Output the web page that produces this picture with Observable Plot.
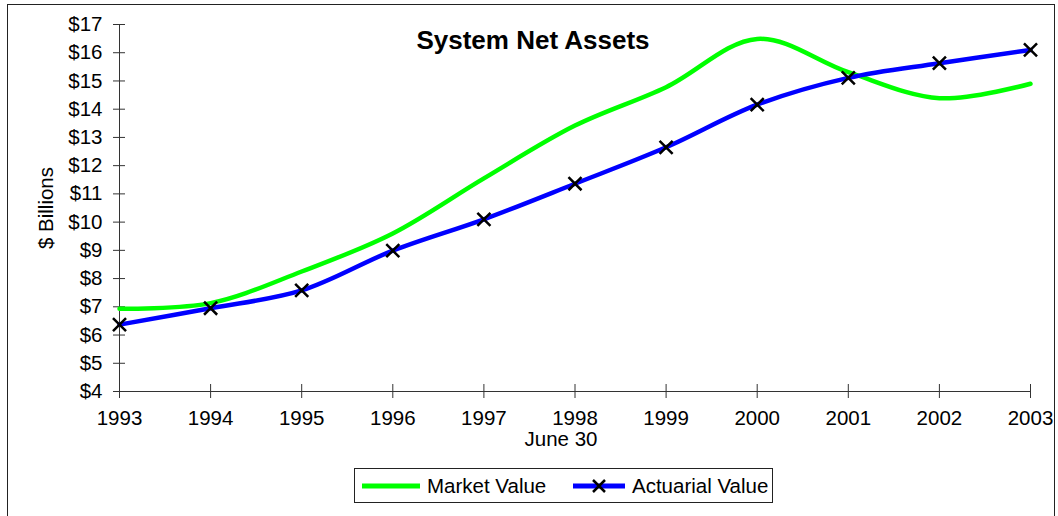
<!DOCTYPE html>
<html><head><meta charset="utf-8">
<script src="https://cdn.jsdelivr.net/npm/d3@7"></script>
<script src="https://cdn.jsdelivr.net/npm/@observablehq/plot@0.6"></script>
<style>
body{margin:0;background:#fff;font-family:"Liberation Sans",Arial,sans-serif;}
#wrap{position:relative;width:1058px;height:516px;overflow:hidden;background:#fff;}
#frame{position:absolute;left:7px;top:4px;width:1046px;height:540px;border:1px solid #222;}
#chart{position:absolute;left:0;top:0;}
#title{position:absolute;left:283px;width:500px;top:25px;text-align:center;font-weight:bold;font-size:26px;color:#000;}
#legend{position:absolute;left:354px;top:468px;width:419px;height:35px;border:1px solid #222;box-sizing:border-box;font-size:20.5px;}
#legend .item{position:absolute;top:0;height:33px;display:flex;align-items:center;white-space:nowrap;}
#legend svg{display:block;margin-right:7px;}
</style></head>
<body><div id="wrap"><div id="frame"></div><div id="chart"></div><div id="title"></div><div id="legend"></div></div>
<script>
const titleText = "System Net Assets";
const years = [1993, 1994, 1995, 1996, 1997, 1998, 1999, 2000, 2001, 2002, 2003];
const marketValue = [6.93, 7.13, 8.25, 9.6, 11.55, 13.42, 14.78, 16.49, 15.31, 14.39, 14.9];
const actuarialValue = [6.37, 6.95, 7.58, 8.99, 10.1, 11.36, 12.65, 14.16, 15.11, 15.63, 16.1];
const yTicks = [4, 5, 6, 7, 8, 9, 10, 11, 12, 13, 14, 15, 16, 17];
const seriesNames = ["Market Value", "Actuarial Value"];
const seriesColors = ["#00ff00", "#0000ff"];
const yLabel = "$ Billions";
const xLabel = "June 30";

const market = years.map((y, i) => ({year: y, value: marketValue[i]}));
const actuarial = years.map((y, i) => ({year: y, value: actuarialValue[i]}));

const chart = Plot.plot({
  width: 1058,
  height: 460,
  marginLeft: 119,
  marginRight: 28,
  marginTop: 24,
  marginBottom: 69,
  style: {fontFamily: '"Liberation Sans", Arial, sans-serif', fontSize: "20.5px", color: "#000", background: "transparent"},
  x: {domain: [1993, 2003]},
  y: {domain: [4, 17]},
  marks: [
    Plot.axisY({ticks: yTicks, tickFormat: d => "$" + d, tickSize: 6, tickPadding: 11, label: yLabel, labelAnchor: "center", labelArrow: "none", labelOffset: 81, stroke: "#333"}),
    Plot.axisY({ticks: yTicks, tickSize: -6, label: null, stroke: "#333", text: null}),
    Plot.axisX({ticks: years, tickFormat: d => String(d), tickSize: 7, tickPadding: 12, label: null, stroke: "#333"}),
    Plot.axisX({ticks: years, tickSize: -7, label: null, stroke: "#333", text: null}),
    Plot.text([xLabel], {frameAnchor: "bottom", dx: -14, dy: 48, lineAnchor: "middle", fontSize: 20.5, fill: "#000"}),
    Plot.ruleY([4], {stroke: "#333"}),
    Plot.ruleX([1993], {stroke: "#333"}),
    Plot.line(market, {x: "year", y: "value", stroke: seriesColors[0], strokeWidth: 4.5, curve: "catmull-rom"}),
    Plot.line(actuarial, {x: "year", y: "value", stroke: seriesColors[1], strokeWidth: 4.5, curve: "catmull-rom"}),
    Plot.dot(actuarial, {x: "year", y: "value", symbol: "times", r: 6, stroke: "#000", strokeWidth: 2.5})
  ]
});
document.getElementById("chart").appendChild(chart);
document.getElementById("title").textContent = titleText;

const legend = document.getElementById("legend");
const lefts = [7, 218];
seriesNames.forEach((name, i) => {
  const item = document.createElement("div");
  item.className = "item";
  item.style.left = lefts[i] + "px";
  const sw = i === 0 ? 58 : 52;
  let svg = `<svg width="${sw}" height="20"><line x1="0" x2="${sw}" y1="10" y2="10" stroke="${seriesColors[i]}" stroke-width="5"/>`;
  if (i === 1) svg += `<path d="M${sw/2-6},4L${sw/2+6},16M${sw/2-6},16L${sw/2+6},4" stroke="#000" stroke-width="2.5"/>`;
  svg += `</svg>`;
  item.innerHTML = svg + `<span>${name}</span>`;
  legend.appendChild(item);
});
</script>
</body></html>
